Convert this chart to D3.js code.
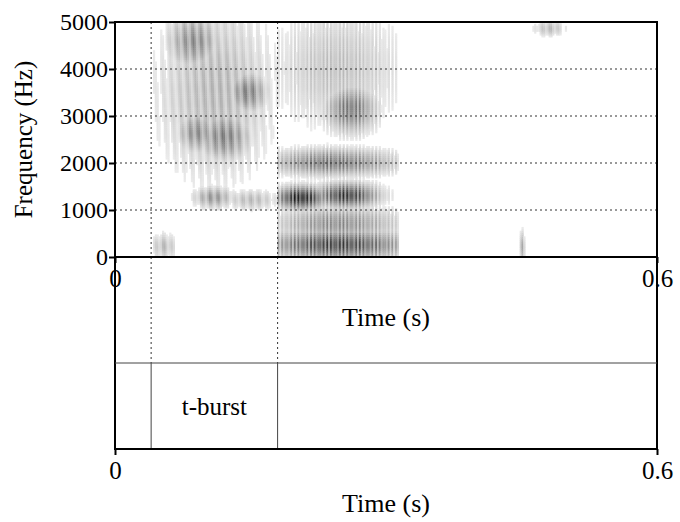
<!DOCTYPE html>
<html><head><meta charset="utf-8">
<script src="https://cdn.jsdelivr.net/npm/d3@7"></script>
<style>body{margin:0;background:#fff}text{font-family:"Liberation Serif","Times New Roman",serif}</style>
</head><body>
<svg id="chart" width="680" height="522"></svg>
<script>
// Spectrogram energy regions: time (s), freq (Hz), spread, darkness
const blobT = [0.11, 0.086, 0.146, 0.12, 0.09, 0.108, 0.053, 0.245, 0.205, 0.255, 0.24, 0.26, 0.245, 0.45, 0.48, 0.15, 0.245];
const blobF = [3500, 4570, 3490, 2550, 2640, 1255, 210, 250, 1250, 1300, 2000, 3130, 4000, 200, 4850, 1200, 700];
const blobDT = [0.045, 0.02, 0.015, 0.02, 0.015, 0.015, 0.01, 0.055, 0.02, 0.025, 0.05, 0.02, 0.05, 0.002, 0.012, 0.02, 0.05];
const blobDF = [1300, 400, 300, 350, 300, 160, 200, 230, 170, 180, 200, 350, 900, 250, 120, 150, 250];
const blobA = [0.32, 0.5, 0.55, 0.55, 0.5, 0.45, 0.3, 0.8, 0.95, 0.85, 0.6, 0.6, 0.28, 0.35, 0.3, 0.3, 0.5];
const blobZone = [1, 1, 1, 1, 1, 1, 1, 2, 2, 2, 2, 2, 2, 3, 3, 1, 2];
// Region limits (s)
const burstStart = 0.04, burstEnd = 0.18, vowelEnd = 0.31;
const yTicks = [0, 1000, 2000, 3000, 4000, 5000];
const xTicks = [0, 0.6];
const tierLabel = "t-burst";

const svg = d3.select("#chart");
const L = 115, R = 657, T = 22, B = 257, tierTop = 363, tierBot = 449;
const x = d3.scaleLinear().domain([0, 0.6]).range([L, R]);
const y = d3.scaleLinear().domain([0, 5000]).range([B, T]);
const zoneOf = t => t < burstStart - 0.003 ? 0 : t < burstEnd ? 1 : t < vowelEnd + 0.004 ? 2 : t > 0.44 ? 3 : 0;

// energy field
const cols = d3.range(0, 0.6, 0.002), rows = d3.range(0, 5000, 40);
const cells = [];
cols.forEach(t => rows.forEach(f => {
  const z = zoneOf(t);
  if (!z) return;
  let v = 0;
  for (let i = 0; i < blobT.length; i++) {
    if (blobZone[i] !== z) continue;
    const dt = (t - blobT[i]) / blobDT[i], df = (f - blobF[i]) / blobDF[i];
    v = Math.max(v, blobA[i] * Math.exp(-(dt * dt + df * df) / 2));
  }
  if (z === 2) v *= 0.72 + 0.28 * Math.cos(t * 2 * Math.PI / 0.0045);
  else v *= 0.75 + 0.25 * Math.cos(t * 2 * Math.PI / 0.009 + f / 500);
  if (v > 0.08) cells.push({t, f, v});
}));
const grey = d3.scaleLinear().domain([0, 1]).range(["#ffffff", "#000000"]);
svg.append("g").selectAll("rect").data(cells).join("rect")
  .attr("x", d => x(d.t)).attr("y", d => y(d.f + 40))
  .attr("width", x(0.002) - x(0) + 0.4).attr("height", y(0) - y(40) + 0.4)
  .attr("fill", d => grey(Math.min(1, d.v)));

// grid
svg.append("g").selectAll("line").data(yTicks.slice(1, -1)).join("line")
  .attr("x1", L).attr("x2", R).attr("y1", d => y(d)).attr("y2", d => y(d))
  .attr("stroke", "#333").attr("stroke-dasharray", "2,3");
svg.append("g").selectAll("line").data([burstStart, burstEnd]).join("line")
  .attr("x1", d => x(d)).attr("x2", d => x(d)).attr("y1", T).attr("y2", tierTop)
  .attr("stroke", "#333").attr("stroke-dasharray", "2,3");
svg.append("g").selectAll("line").data([burstStart, burstEnd]).join("line")
  .attr("x1", d => x(d)).attr("x2", d => x(d)).attr("y1", tierTop).attr("y2", tierBot)
  .attr("stroke", "#444");

// frames
svg.append("rect").attr("x", L).attr("y", T).attr("width", R - L).attr("height", B - T)
  .attr("fill", "none").attr("stroke", "#000").attr("stroke-width", 2);
svg.append("rect").attr("x", L).attr("y", B).attr("width", R - L).attr("height", tierBot - B)
  .attr("fill", "none").attr("stroke", "#000").attr("stroke-width", 2);
svg.append("line").attr("x1", L).attr("x2", R).attr("y1", tierTop).attr("y2", tierTop).attr("stroke", "#444");

svg.append("text").attr("x", (x(burstStart) + x(burstEnd)) / 2).attr("y", 415)
  .attr("text-anchor", "middle").attr("font-size", 25).text(tierLabel);

// axes
const ya = svg.append("g").attr("transform", `translate(${L},0)`)
  .call(d3.axisLeft(y).tickValues(yTicks).tickSize(6).tickFormat(d3.format("d")));
ya.select(".domain").remove();
ya.selectAll("text").attr("font-size", 24).attr("font-family", "Liberation Serif").attr("fill", "#000").attr("dx", 2).attr("dy", "0.32em");
ya.selectAll("line").attr("stroke-width", 2);

function timeAxis(yPos, labelY) {
  const g = svg.append("g").attr("transform", `translate(0,${yPos})`)
    .call(d3.axisBottom(x).tickValues(xTicks).tickSize(6).tickFormat(d => d === 0 ? "0" : d3.format(".1f")(d)));
  g.select(".domain").remove();
  g.selectAll("line").attr("stroke-width", 2);
  g.selectAll("text").attr("font-size", 25).attr("font-family", "Liberation Serif").attr("fill", "#000").attr("dy", "0.85em");
  svg.append("text").attr("x", (L + R) / 2).attr("y", labelY).attr("text-anchor", "middle")
    .attr("font-size", 26).text("Time (s)");
}
timeAxis(B, 326);
timeAxis(tierBot, 512);

svg.append("text").attr("transform", `translate(32,${(T + B) / 2}) rotate(-90)`)
  .attr("text-anchor", "middle").attr("font-size", 25).text("Frequency (Hz)");
</script>
</body></html>
